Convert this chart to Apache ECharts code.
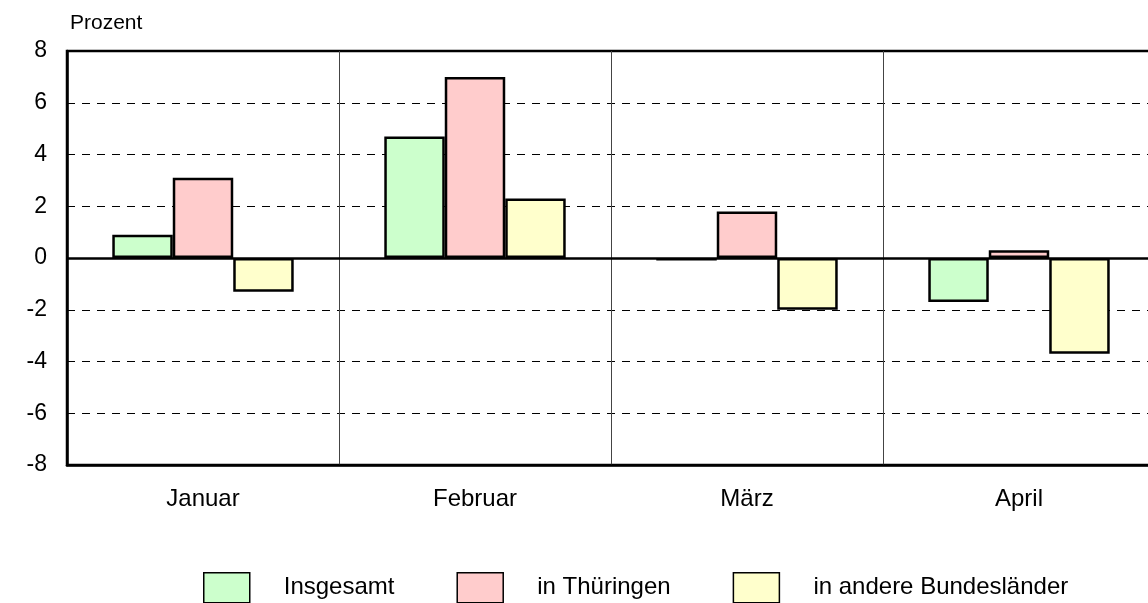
<!DOCTYPE html>
<html>
<head>
<meta charset="utf-8">
<script src="https://cdn.jsdelivr.net/npm/echarts@6/dist/echarts.min.js"></script>
<style>
html,body{margin:0;padding:0;background:#fff;}
#c{width:1148px;height:603px;}
</style>
</head>
<body>
<div id="c"></div>
<script>
const categories = ['Januar', 'Februar', 'März', 'April'];
const insgesamt = [0.9, 4.7, -0.1, -1.7];
const thueringen = [3.1, 7.0, 1.8, 0.3];
const andere = [-1.3, 2.3, -2.0, -3.7];
const seriesNames = ['Insgesamt', 'in Thüringen', 'in andere Bundesländer'];
const colors = ['#ccffcc', '#ffcccc', '#ffffcc'];
const yMin = -8, yMax = 8, yStep = 2;

const font = 'Liberation Sans, Arial, sans-serif';
const chart = echarts.init(document.getElementById('c'), null, {renderer: 'canvas'});

const barStyle = (c) => ({color: c, borderColor: '#000', borderWidth: 2.5});

chart.setOption({
  animation: false,
  backgroundColor: '#fff',
  textStyle: {fontFamily: font, color: '#000'},
  grid: {
    left: 67, top: 51, width: 1088, bottom: 138,
    outerBoundsMode: 'none', containLabel: false,
    show: true, borderColor: '#000', borderWidth: 2.5, backgroundColor: 'transparent'
  },
  legend: {
    data: seriesNames,
    left: 203, top: 572, padding: 0,
    itemWidth: 46, itemHeight: 30, itemGap: 62,
    icon: 'rect',
    itemStyle: {borderColor: '#000', borderWidth: 1.5},
    textStyle: {fontSize: 24, color: '#000', fontFamily: font, padding: [0, 0, 0, 29]}
  },
  xAxis: {
    type: 'category',
    data: categories,
    axisLine: {onZero: false, lineStyle: {color: '#000', width: 2.5}},
    axisTick: {show: false},
    axisLabel: {fontSize: 24, color: '#000', margin: 22, fontFamily: font},
    splitLine: {show: true, lineStyle: {color: '#444', width: 1}}
  },
  yAxis: {
    type: 'value',
    min: yMin, max: yMax, interval: yStep,
    name: 'Prozent',
    nameLocation: 'end',
    nameGap: 28,
    nameTextStyle: {fontSize: 21, color: '#000', align: 'left', verticalAlign: 'middle', padding: [0, 0, 0, 3], fontFamily: font},
    axisLine: {show: true, lineStyle: {color: '#000', width: 2.5}},
    axisTick: {show: false},
    axisLabel: {fontSize: 23, color: '#000', margin: 20, fontFamily: font},
    splitLine: {show: true, lineStyle: {color: '#000', width: 1, type: [8, 7]}}
  },
  series: [
    {
      name: seriesNames[0], type: 'bar', data: insgesamt,
      barGap: 0, barCategoryGap: '33.3%',
      itemStyle: barStyle(colors[0]),
      markLine: {
        silent: true, symbol: 'none', label: {show: false},
        lineStyle: {color: '#000', width: 2.5, type: 'solid'},
        data: [{yAxis: 0}]
      }
    },
    {name: seriesNames[1], type: 'bar', data: thueringen, barGap: 0, barCategoryGap: '33.3%', itemStyle: barStyle(colors[1])},
    {name: seriesNames[2], type: 'bar', data: andere, barGap: 0, barCategoryGap: '33.3%', itemStyle: barStyle(colors[2])}
  ]
});
</script>
</body>
</html>
